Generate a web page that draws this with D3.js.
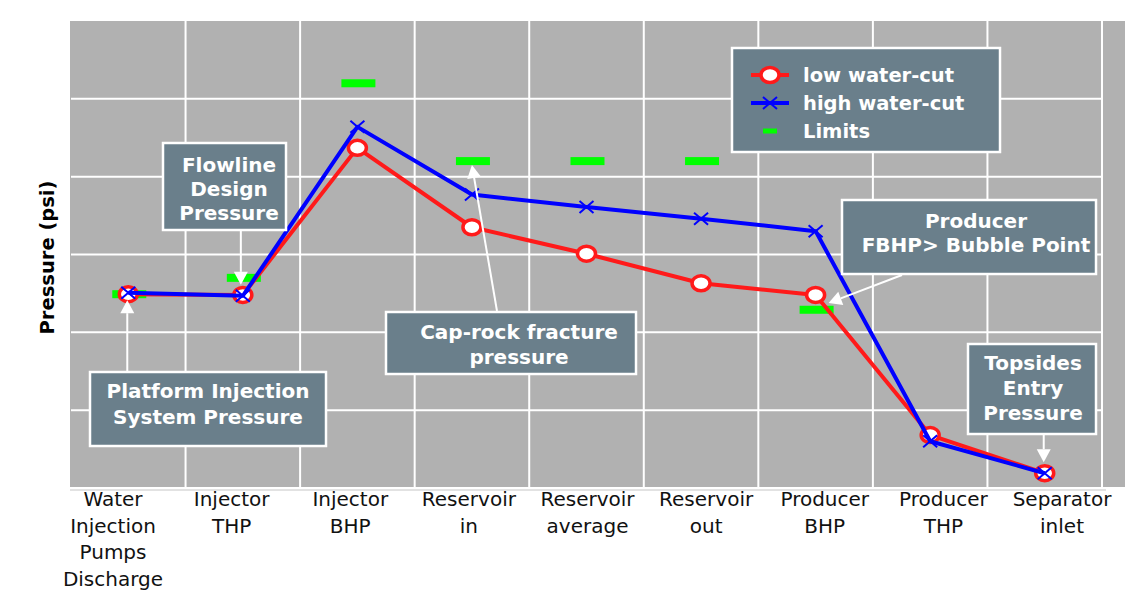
<!DOCTYPE html>
<html>
<head>
<meta charset="utf-8">
<script src="https://cdn.jsdelivr.net/npm/d3@7"></script>
<style>
  body { margin: 0; background: #fff; }
  svg { display: block; font-family: "DejaVu Sans", Verdana, sans-serif; }
</style>
</head>
<body>
<svg id="chart" width="1125" height="595"></svg>
<script>
// chart values (psi, no tick labels shown)
var categories = ["Water Injection Pumps Discharge", "Injector THP", "Injector BHP", "Reservoir in",
    "Reservoir average", "Reservoir out", "Producer BHP", "Producer THP", "Separator inlet"];
var categoryLines = [["Water", "Injection", "Pumps", "Discharge"], ["Injector", "THP"], ["Injector", "BHP"],
    ["Reservoir", "in"], ["Reservoir", "average"], ["Reservoir", "out"], ["Producer", "BHP"],
    ["Producer", "THP"], ["Separator", "inlet"]];
var lowWaterCut = [2490, 2480, 4370, 3350, 3010, 2630, 2480, 680, 190];
var highWaterCut = [2510, 2470, 4640, 3770, 3610, 3460, 3300, 600, 190];
var limits = [2490, 2700, 5200, 4200, 4200, 4200, 2290, null, null];
var yTicks = [0, 1000, 2000, 3000, 4000, 5000, 6000];

var svg = d3.select("#chart");
var plotLeft = 71, plotRight = 1102, plotTop = 21, plotBottom = 488;

var x = d3.scaleBand().domain(categories).range([plotLeft, plotRight]).paddingInner(0).paddingOuter(0);
var cx = function (c) { return x(c) + x.bandwidth() / 2; };
var y = d3.scaleLinear().domain([0, 6000]).range([plotBottom, plotTop]);
var labelX = d3.scalePoint().domain(categories).range([113, 1062]);

// plot background
svg.append("rect").attr("x", plotLeft - 1).attr("y", plotTop).attr("width", 1125 - plotLeft + 1)
    .attr("height", plotBottom - plotTop - 1)
    .attr("fill", "#b1b1b1");
svg.append("line").attr("x1", plotLeft - 1).attr("x2", plotRight + 4).attr("y1", plotBottom + 2).attr("y2", plotBottom + 2)
    .attr("stroke", "#d8d8d8").attr("stroke-width", 1.5);

// grid
svg.append("g").selectAll("line").data(yTicks.slice(1, -1)).enter().append("line")
    .attr("x1", plotLeft).attr("x2", plotRight).attr("y1", d => y(d)).attr("y2", d => y(d))
    .attr("stroke", "#fff").attr("stroke-width", 2);
svg.append("g").selectAll("line").data(categories.slice(1).concat(["end"])).enter().append("line")
    .attr("x1", d => d === "end" ? plotRight : x(d)).attr("x2", d => d === "end" ? plotRight : x(d))
    .attr("y1", plotTop).attr("y2", plotBottom - 1)
    .attr("stroke", "#fff").attr("stroke-width", 2);

// category labels
svg.append("g").selectAll("text").data(categories).enter().append("text")
    .attr("text-anchor", "middle")
    .attr("font-size", 20)
    .attr("fill", "#111")
    .each(function (c, i) {
        var t = d3.select(this);
        categoryLines[i].forEach(function (s, j) {
            t.append("tspan").attr("x", labelX(c)).attr("y", 506 + j * 26.5).text(s);
        });
    });

// y title
svg.append("text")
    .attr("transform", "translate(54," + ((plotTop + plotBottom) / 2 + 3) + ") rotate(-90)")
    .attr("text-anchor", "middle")
    .attr("font-size", 19.5).attr("font-weight", "bold").attr("fill", "#000")
    .text("Pressure (psi)");

// limits
svg.append("g").selectAll("rect").data(limits.map((v, i) => ({ c: categories[i], v: v })).filter(d => d.v != null))
    .enter().append("rect")
    .attr("x", d => cx(d.c) - 16).attr("y", d => y(d.v) - 4)
    .attr("width", 34).attr("height", 8).attr("fill", "#00ff00");

var line = d3.line().x(d => cx(d.c)).y(d => y(d.v));

function circleMark(sel) {
    sel.append("ellipse").attr("rx", 9).attr("ry", 7.5)
        .attr("fill", "#fff").attr("stroke", "#ff1a1a").attr("stroke-width", 3.5);
}
function crossMark(sel) {
    sel.append("path").attr("d", "M-7,-6L7,6M-7,6L7,-6")
        .attr("stroke", "#0000ff").attr("stroke-width", 2).attr("fill", "none");
}

var lowData = lowWaterCut.map((v, i) => ({ c: categories[i], v: v }));
var highData = highWaterCut.map((v, i) => ({ c: categories[i], v: v }));

svg.append("path").datum(lowData).attr("d", line)
    .attr("fill", "none").attr("stroke", "#ff1a1a").attr("stroke-width", 4).attr("stroke-linejoin", "round");
svg.append("g").selectAll("g").data(lowData).enter().append("g")
    .attr("transform", d => "translate(" + cx(d.c) + "," + y(d.v) + ")")
    .call(circleMark);

svg.append("path").datum(highData).attr("d", line)
    .attr("fill", "none").attr("stroke", "#0000ff").attr("stroke-width", 4).attr("stroke-linejoin", "round");
svg.append("g").selectAll("g").data(highData).enter().append("g")
    .attr("transform", d => "translate(" + cx(d.c) + "," + y(d.v) + ")")
    .call(crossMark);

// annotation boxes
var boxFill = "#6a7f8b";
function box(x0, y0, w, h) {
    svg.append("rect").attr("x", x0).attr("y", y0).attr("width", w).attr("height", h)
        .attr("fill", boxFill).attr("stroke", "#fff").attr("stroke-width", 2.5);
}
function boxText(lines, xc, y0, lh, size) {
    var t = svg.append("text").attr("text-anchor", "middle").attr("font-size", size || 20)
        .attr("font-weight", "bold").attr("fill", "#fff");
    lines.forEach(function (s, j) {
        t.append("tspan").attr("x", xc).attr("y", y0 + j * lh).text(s);
    });
}
function arrow(x1, y1, x2, y2) {
    var a = Math.atan2(y2 - y1, x2 - x1), len = 13, hw = 7;
    var bx = x2 - len * Math.cos(a), by = y2 - len * Math.sin(a);
    svg.append("line").attr("x1", x1).attr("y1", y1).attr("x2", bx).attr("y2", by)
        .attr("stroke", "#fff").attr("stroke-width", 2);
    svg.append("path")
        .attr("d", "M" + x2 + "," + y2 + "L" + (bx + hw * Math.sin(a)) + "," + (by - hw * Math.cos(a)) +
            "L" + (bx - hw * Math.sin(a)) + "," + (by + hw * Math.cos(a)) + "Z")
        .attr("fill", "#fff");
}

// Flowline Design Pressure
box(163, 143, 123, 87);
boxText(["Flowline", "Design", "Pressure"], 229, 172, 24);
arrow(cx(categories[1]) - 2, 231, cx(categories[1]) - 2, y(limits[1]) + 7);

// Platform Injection System Pressure
box(90, 372, 236, 74);
boxText(["Platform Injection", "System Pressure"], 208, 398, 26);
arrow(cx(categories[0]) - 1, 371, cx(categories[0]) - 1, y(lowWaterCut[0]) + 6);

// Cap-rock fracture pressure
box(386, 312, 250, 62);
boxText(["Cap-rock fracture", "pressure"], 519, 339, 25);
arrow(497, 311, cx(categories[3]), y(limits[3]) + 4);

// Producer FBHP > Bubble Point
box(842, 200, 254, 74);
boxText(["Producer", "FBHP> Bubble Point"], 976, 228, 24);
arrow(902, 275, cx(categories[6]) + 13, y(lowWaterCut[6]) + 8);

// Topsides Entry Pressure
box(968, 344, 128, 90);
boxText(["Topsides", "Entry", "Pressure"], 1033, 370, 25);
arrow(cx(categories[8]) - 1, 435, cx(categories[8]) - 1, y(lowWaterCut[8]) - 11);

// legend
box(732, 48, 268, 104);
var leg = svg.append("g");
var legItems = [{ name: "low water-cut", k: "low" }, { name: "high water-cut", k: "high" }, { name: "Limits", k: "lim" }];
legItems.forEach(function (d, i) {
    var ly = 75 + i * 28;
    var g = leg.append("g").attr("transform", "translate(770," + ly + ")");
    if (d.k === "low") {
        g.append("line").attr("x1", -19).attr("x2", 19).attr("stroke", "#ff1a1a").attr("stroke-width", 4);
        g.call(circleMark);
    } else if (d.k === "high") {
        g.append("line").attr("x1", -19).attr("x2", 19).attr("stroke", "#0000ff").attr("stroke-width", 4);
        g.call(crossMark);
    } else {
        g.append("rect").attr("x", -7).attr("y", -2.5).attr("width", 14).attr("height", 5).attr("fill", "#00ff00");
    }
    leg.append("text").attr("x", 803).attr("y", ly + 7).attr("font-size", 19.5)
        .attr("font-weight", "bold").attr("fill", "#fff").text(d.name);
});
</script>
</body>
</html>
